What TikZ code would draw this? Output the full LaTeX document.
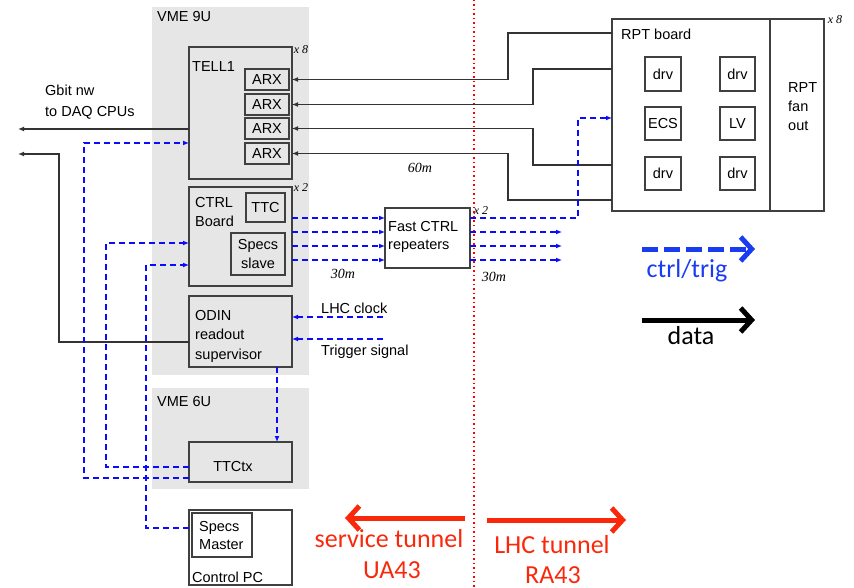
\documentclass[tikz,border=0pt]{standalone}
\usepackage{fontspec}
\setmainfont{Liberation Sans}
\newfontfamily\legfont{Carlito}
\newfontfamily\serfont{Liberation Serif}
\usetikzlibrary{arrows.meta,calc}
\definecolor{bggray}{RGB}{230,230,230}
\definecolor{boxc}{RGB}{64,64,64}
\definecolor{ctlblue}{RGB}{10,10,255}
\definecolor{legblue}{RGB}{25,60,240}
\definecolor{tunred}{RGB}{250,40,10}
\begin{document}
\begin{tikzpicture}[x=1pt,y=-1pt,
  wh/.style 2 args={minimum width=#1pt,minimum height=#2pt},
  box/.style={draw=boxc,line width=1.2pt,inner sep=0pt,outer sep=0pt,anchor=north west,font=\fontsize{14.5}{17}\selectfont},
  bg/.style={fill=bggray,inner sep=0pt,outer sep=0pt,anchor=north west},
  txt/.style={inner sep=0pt,align=left,font=\fontsize{14.5}{#1}\selectfont},
  txt/.default=19,
  mult/.style={inner sep=0pt,font=\fontsize{12}{14}\selectfont\serfont\itshape},
  dist/.style={inner sep=0pt,font=\fontsize{14}{16}\selectfont\serfont\itshape},
  tip/.style={-{Latex[length=6pt,width=5pt]}},
  ctl/.style={draw=ctlblue,line width=1.2pt,dash pattern=on 6pt off 4pt,tip},
  dat/.style={draw=black!80,line width=1.2pt,tip},
  leg/.style={inner sep=0pt,anchor=base,font=\fontsize{26}{30}\selectfont\legfont},
  bigarrow/.style={line width=5pt,-{Straight Barb[length=11pt,width=24pt,line width=5pt]}}
]
\useasboundingbox (0,0) rectangle (854,588);
% crates
\node[bg,wh={157}{368}] (vme9) at (152,7) {};
\node[bg,wh={157}{101}] (vme6) at (152,388) {};
\node[txt,anchor=west] (vme9l) at (157,17) {VME 9U};
\node[txt,anchor=west] (vme6l) at (157,402) {VME 6U};
% TELL1
\node[box,wh={103}{132}] (tell1) at (189,47) {};
\node[txt,anchor=west] (tell1l) at (192,67) {TELL1};
\node[box,wh={44}{21}] (arx1) at (245,69) {};
\node[box,wh={44}{21}] (arx2) at (245,94) {};
\node[box,wh={44}{21}] (arx3) at (245,118) {};
\node[box,wh={44}{21}] (arx4) at (245,143) {};
\foreach \n in {1,...,4}{\node[txt] at (arx\n.center) {ARX};}
\node[mult] (x8a) at (301,50) {x 8};
% CTRL board
\node[box,wh={103}{99}] (ctrl) at (189,187) {};
\node[txt,anchor=west] (ctrll) at (195,212.5) {CTRL\\Board};
\node[box,wh={39}{29}] (ttc) at (246,193) {};
\node[txt] at (ttc.center) {TTC};
\node[box,wh={54}{42}] (specs) at (231,233) {};
\node[txt,align=center] at (specs.center) {Specs\\slave};
\node[mult] (x2a) at (301,188) {x 2};
% ODIN
\node[box,wh={103}{71}] (odin) at (189,296) {};
\node[txt={19.5},anchor=west] (odinl) at (195,336) {ODIN\\readout\\supervisor};
% Fast CTRL repeaters
\node[box,wh={85}{60}] (fcr) at (385,208) {};
\node[txt={18},anchor=west] (fcrl) at (388,237) {Fast CTRL\\repeaters};
\node[mult] (x2b) at (481,211) {x 2};
% TTCtx
\node[box,fill=bggray,wh={103}{40}] (ttctx) at (189,442) {};
\node[txt] (ttctxl) at (233,467) {TTCtx};
% Control PC
\node[box,fill=white,wh={103}{75}] (cpc) at (189,510) {};
\node[box,wh={60}{44}] (smaster) at (192,513) {};
\node[txt={18},anchor=west] (smasterl) at (199,536) {Specs\\Master};
\node[txt,anchor=west] (cpcl) at (192,577) {Control PC};
% RPT board
\node[box,wh={158}{192}] (rpt) at (612,19) {};
\node[box,wh={54}{192}] (fan) at (770,19) {};
\node[txt,anchor=west] (rptl) at (621,34) {RPT board};
\node[txt,anchor=west] (fanl) at (788,107) {RPT\\fan\\out};
\node[mult] (x8b) at (835,20) {x 8};
\node[box,wh={36}{34}] (d1) at (645,57) {};
\node[box,wh={35}{34}] (d2) at (720,57) {};
\node[box,wh={36}{33}] (ecs) at (645,107) {};
\node[box,wh={35}{33}] (lv) at (720,107) {};
\node[box,wh={36}{33}] (d3) at (645,157) {};
\node[box,wh={35}{33}] (d4) at (720,157) {};
\foreach \n in {d1,d2,d3,d4}{\node[txt] at (\n.center) {drv};}
\node[txt] at (ecs.center) {ECS};
\node[txt] at (lv.center) {LV};
% tunnel boundary
\draw[red,line width=1.3pt,dash pattern=on 1.5pt off 3pt] (474,0) -- (474,588);
% data lines RPT -> TELL1
\draw[dat] (rpt.west |- 0,33) -- ++(-104,0) |- (tell1.east |- arx1);
\draw[dat] (rpt.west |- 0,69) -- ++(-79,0) |- (tell1.east |- arx2);
\draw[dat] (rpt.west |- 0,165) -- ++(-79,0) |- (tell1.east |- arx3);
\draw[dat] (rpt.west |- 0,200) -- ++(-104,0) |- (tell1.east |- arx4);
\node[dist] (d60) at (420,168) {60m};
% data out to DAQ
\coordinate (daq1) at (18,129);
\coordinate (daq2) at (18,154);
\draw[dat] (tell1.west |- daq1) -- (daq1);
\draw[dat] (odin.west |- 0,342) -- (59,342) |- (daq2);
\node[txt={21},anchor=west] (gbit) at (45,102.5) {Gbit nw\\to DAQ CPUs};
% CTRL -> Fast CTRL repeaters
\foreach \yy in {218,232,246,260}{\draw[ctl] (ctrl.east |- 0,\yy) -- (fcr.west |- 0,\yy);}
\node[dist] (d30a) at (343,274) {30m};
% Fast CTRL repeaters -> RPT
\draw[ctl] (fcr.east |- 0,218) -- (578,218) |- (rpt.west |- 0,118);
\foreach \yy in {232,246,260}{\coordinate (o\yy) at (562,\yy); \draw[ctl] (fcr.east |- o\yy) -- (o\yy);}
\node[dist] (d30b) at (494,277) {30m};
% LHC clock, trigger
\coordinate (clk) at (383,317);
\coordinate (trg) at (383,339);
\draw[ctl] (clk) -- (odin.east |- clk);
\draw[ctl] (trg) -- (odin.east |- trg);
\node[txt,anchor=west] (clkl) at (321,308) {LHC clock};
\node[txt,anchor=west] (trgl) at (321,352) {Trigger signal};
% ODIN -> TTCtx
\draw[ctl] ($(odin.south east)+(-15,0)$) -- ($(ttctx.north east)+(-15,0)$);
% TTCtx -> TELL1, CTRL ; Control PC -> CTRL
\draw[ctl] (ttctx.west |- 0,478) -- (84,478) |- (tell1.west |- 0,143);
\draw[ctl] (ttctx.west |- 0,467) -- (106,467) |- (ctrl.west |- 0,243);
\draw[ctl] (cpc.west |- 0,528) -- (146,528) |- (ctrl.west |- 0,265);
% legend
\coordinate (lb1) at (642,249); \coordinate (lb2) at (755,249);
\coordinate (ld1) at (642,320); \coordinate (ld2) at (755,320);
\draw[bigarrow,legblue,dash pattern=on 16pt off 6pt] (lb1) -- (lb2);
\node[leg,text=legblue] (ctrltrig) at (687,277) {ctrl/trig};
\draw[bigarrow,black] (ld1) -- (ld2);
\node[leg] (datal) at (691,344) {data};
% tunnels
\coordinate (sv1) at (465,518); \coordinate (sv2) at (345,518);
\coordinate (lh1) at (487,520); \coordinate (lh2) at (626,520);
\draw[bigarrow,tunred] (sv1) -- (sv2);
\draw[bigarrow,tunred] (lh1) -- (lh2);
\node[leg,text=tunred] (svl) at (389,547) {service tunnel};
\node[leg,text=tunred] (ual) at (392,578) {UA43};
\node[leg,text=tunred] (lhl) at (552,553) {LHC tunnel};
\node[leg,text=tunred] (ral) at (553,583) {RA43};
\end{tikzpicture}
\end{document}
